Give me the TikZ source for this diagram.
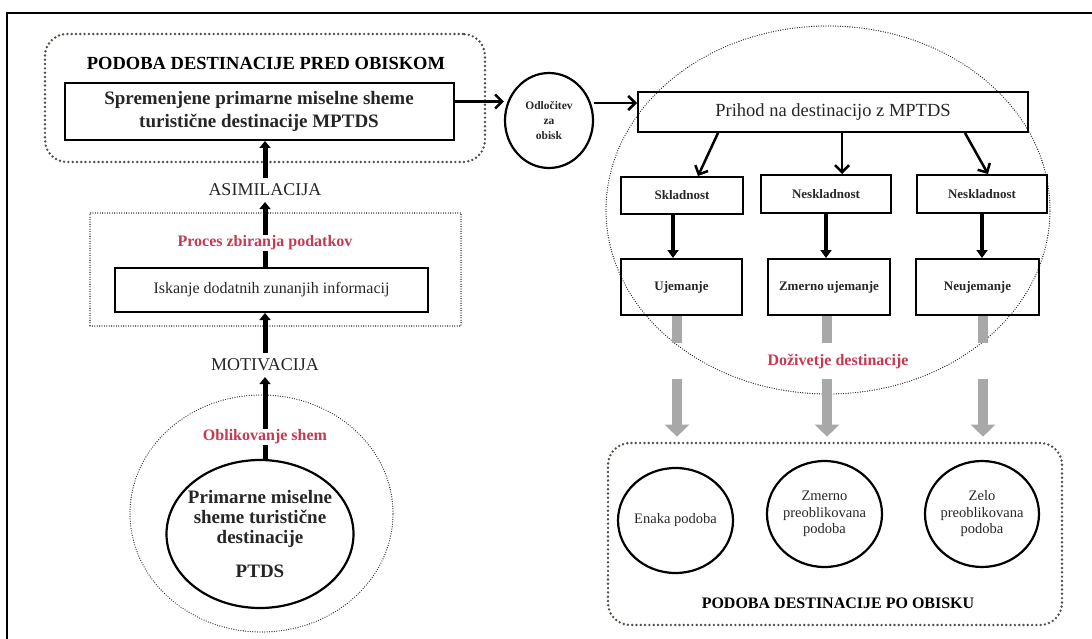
\documentclass[tikz,border=0pt]{standalone}
\usepackage{fontspec}
\setmainfont{Liberation Serif}
\usetikzlibrary{arrows.meta,shapes.geometric}
\definecolor{shemared}{RGB}{196,58,82}
\definecolor{arrowgray}{RGB}{168,168,168}
\definecolor{dotgray}{RGB}{80,80,70}
\newcommand{\fsz}[2]{\fontsize{#1}{#2}\selectfont}
\begin{document}
\begin{tikzpicture}[x=1pt,y=-1pt,
    box/.style={draw,line width=2pt,inner sep=0pt,text=black!85},
    oval/.style={draw,ellipse,line width=2.2pt,inner sep=0pt,align=center,text=black!85},
    softframe/.style={draw=dotgray,line width=2.7pt,dash pattern=on 0pt off 4.3pt,line cap=round,rounded corners=22pt,inner sep=0pt},
    finedots/.style={line width=1.3pt,dash pattern=on 0pt off 2.4pt,line cap=round,inner sep=0pt},
    lbl/.style={inner sep=0pt,outer sep=6pt,text=black!85,font=\fsz{18}{21}},
    redlbl/.style={inner sep=1pt,fill=white,text=shemared,font=\fsz{16}{19}\bfseries},
    uparrow/.style={line width=5pt,-{Triangle[length=7pt,width=11pt]}},
    downarrow/.style={line width=4pt,-{Triangle[length=8pt,width=11pt]}},
    barb/.style={line width=2.5pt,-{Straight Barb[length=7pt,width=14pt]}},
    grayarrow/.style={draw=arrowgray,line width=10pt,shorten >=5pt,-{Triangle[length=12pt,width=24pt]},dash pattern=on 27pt off 36pt on 300pt}]
\useasboundingbox (0,0) rectangle (1092,639);
\draw[line width=2.5pt] (7,639) |- (1092,13);
% left column
\node[softframe,minimum width=440pt,minimum height=128pt] (pred) at (265,98) {};
\node[font=\fsz{18.5}{22}\bfseries] (predtitle) at (266,63) {PODOBA DESTINACIJE PRED OBISKOM};
\node[box,font=\fsz{19}{23.5}\bfseries,align=center,minimum width=389pt,minimum height=57pt] (sprem) at (259,111.5) {Spremenjene primarne miselne sheme\\turistične destinacije MPTDS};
\node[lbl] (asim) at (265,190) {ASIMILACIJA};
\node[finedots,draw,minimum width=371pt,minimum height=113pt] (zbir) at (275.5,269.5) {};
\node[box,font=\fsz{16}{19},minimum width=313pt,minimum height=44pt] (isk) at (271.5,290) {Iskanje dodatnih zunanjih informacij};
\node[lbl] (motiv) at (265,365) {MOTIVACIJA};
\node[finedots,draw=black!80,ellipse,minimum width=263pt,minimum height=237pt] (oblik) at (261.5,513.5) {};
\node[oval,font=\fsz{19}{20}\bfseries,inner xsep=-10pt,minimum width=187pt,minimum height=148pt] (prim) at (260,534) {Primarne miselne\\sheme turistične\\destinacije\\[14pt]PTDS};
\draw[uparrow] (asim) -- (sprem.south -| asim);
\draw[uparrow] (isk.north -| asim) -- (asim);
\draw[uparrow] (motiv) -- (isk.south -| motiv);
\draw[uparrow] (prim.north -| motiv) -- (motiv);
\node[redlbl] (proces) at (265,243) {Proces zbiranja podatkov};
\node[redlbl] (obltext) at (265,437) {Oblikovanje shem};
% decision
\node[oval,font=\fsz{11.5}{15}\bfseries,minimum width=88pt,minimum height=95pt] (odl) at (549,120.5) {Odločitev\\za\\obisk};
% right part
\node[finedots,draw=black!85,ellipse,minimum width=444pt,minimum height=368pt] (dozi) at (828,210) {};
\node[box,font=\fsz{18.5}{22},minimum width=390pt,minimum height=40pt] (prih) at (833,112) {Prihod na destinacijo z MPTDS};
\node[box,font=\fsz{13}{16}\bfseries,minimum width=122pt,minimum height=37pt] (skl) at (682,195.5) {Skladnost};
\node[box,font=\fsz{13}{16}\bfseries,minimum width=130pt,minimum height=38pt] (nes1) at (826,194) {Neskladnost};
\node[box,font=\fsz{13}{16}\bfseries,minimum width=130pt,minimum height=38pt] (nes2) at (982,194) {Neskladnost};
\node[box,font=\fsz{13}{16}\bfseries,minimum width=121pt,minimum height=56pt] (uj) at (681.5,287) {Ujemanje};
\node[box,font=\fsz{13}{16}\bfseries,minimum width=122pt,minimum height=56pt] (zme) at (829,287) {Zmerno ujemanje};
\node[box,font=\fsz{13}{16}\bfseries,minimum width=123pt,minimum height=56pt] (neu) at (977.5,287) {Neujemanje};
\node[redlbl] (dozitext) at (838,362) {Doživetje destinacije};
\node[softframe,minimum width=454pt,minimum height=182pt] (po) at (835,534) {};
\node[font=\fsz{16}{19}\bfseries] (potitle) at (838,603) {PODOBA DESTINACIJE PO OBISKU};
\node[oval,font=\fsz{14.5}{16.5},inner xsep=-4pt,minimum width=115pt,minimum height=105pt] (enaka) at (675.5,520.5) {Enaka podoba};
\node[oval,font=\fsz{14.5}{16.5},inner xsep=-4pt,minimum width=115pt,minimum height=106pt] (zmpre) at (824.5,514) {Zmerno\\preoblikovana\\podoba};
\node[oval,font=\fsz{14.5}{16.5},inner xsep=-4pt,minimum width=114pt,minimum height=106pt] (zelo) at (982,514) {Zelo\\preoblikovana\\podoba};
% connectors
\draw[barb] ([yshift=10pt]sprem.east) -- ([yshift=10pt]sprem.east -| odl.west);
\draw[barb] ([yshift=9pt]prih.west -| odl.east) -- ([yshift=9pt]prih.west);
\draw[barb] ([xshift=-115pt]prih.south) -- ([xshift=16pt]skl.north);
\draw[barb] ([xshift=9pt]prih.south) -- ([xshift=16pt]nes1.north);
\draw[barb] ([xshift=132pt]prih.south) -- ([xshift=6pt]nes2.north);
\draw[downarrow] ([xshift=-9pt]skl.south) -- ([xshift=-9pt]skl.south |- uj.north);
\draw[downarrow] (nes1.south) -- (nes1.south |- zme.north);
\draw[downarrow] (nes2.south) -- (nes2.south |- neu.north);
\draw[grayarrow] ([xshift=-4.5pt]uj.south) -- ([xshift=-4.5pt]uj.south |- po.north);
\draw[grayarrow] ([xshift=-2pt]zme.south) -- ([xshift=-2pt]zme.south |- po.north);
\draw[grayarrow] ([xshift=5.5pt]neu.south) -- ([xshift=5.5pt]neu.south |- po.north);
\end{tikzpicture}
\end{document}
